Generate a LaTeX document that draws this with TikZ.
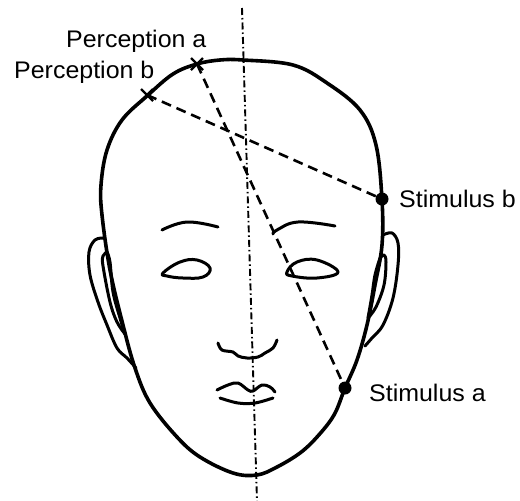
\documentclass[tikz,border=0pt]{standalone}
\usepackage{fontspec}
\setmainfont{Liberation Sans}
\newfontfamily\lblfont[FakeStretch=1.04]{Liberation Sans}
\begin{document}
\begin{tikzpicture}[x=1pt,y=-1pt,
  outline/.style={line width=3.6pt,line cap=round,line join=round},
  feature/.style={line width=3pt,line cap=round,line join=round},
  ray/.style={line width=2.6pt,dash pattern=on 10pt off 6pt},
  midline/.style={line width=1.9pt,dash pattern=on 7pt off 3pt on 1.5pt off 3pt},
  dotmark/.style={circle,fill=black,inner sep=0pt,minimum size=13pt},
  crossmark/.style={inner sep=0pt,minimum size=0pt},
  lbl/.style={anchor=base west,inner sep=0pt,font=\lblfont\fontsize{24}{27}\selectfont}]
\useasboundingbox (0,0) rectangle (520,501);
\fill[white] (0,0) rectangle (520,501);

% vertical mid line of the face
\coordinate (mtop) at (242,8);
\coordinate (mbot) at (257,501);
\draw[midline] (mtop) -- (mbot);

% head outline
\draw[outline] plot[smooth cycle,tension=0.6] coordinates {
  (243,60) (293,65) (327,83) (360,110) (376,145) (382,200) (382,245)
  (375,285) (367,325) (357,360) (345,388) (334,415) (317,437) (300,453)
  (277,467) (257,475) (233,473) (200,457) (177,437) (150,403) (135,368)
  (123,325) (110,270) (102,215) (101,185) (107,150) (122,120) (147,96)
  (173,74) (197,64) (220,60)};

% left ear
\draw[feature] plot[smooth,tension=0.6] coordinates {
  (104,238) (95,240) (89,252) (90,275) (98,302) (107,325) (117,348) (127,358) (136,368)};
\draw[feature] plot[smooth,tension=0.6] coordinates {
  (107,252) (103,256) (103,266) (110,302) (117,322) (125,334)};
\draw[feature] plot[smooth,tension=0.6] coordinates {
  (107,252) (110,262) (113,292) (120,318) (125,334)};

% right ear
\draw[feature] plot[smooth,tension=0.6] coordinates {
  (383,235) (392,233) (398,243) (398,265) (393,298) (383,325) (372,338) (365,346)};
\draw[feature] plot[smooth,tension=0.6] coordinates {
  (380,258) (384,255) (386,262) (384,285) (376,307) (368,318)};
\draw[feature] plot[smooth,tension=0.6] coordinates {
  (380,258) (375,275) (372,295) (368,318)};

% eyebrows
\draw[feature] plot[smooth,tension=0.7] coordinates {(162,230) (187,222) (218,227)};
\draw[feature] plot[smooth,tension=0.7] coordinates {(273,234) (277,230) (298,222) (335,226)};

% eyes
\draw[feature] plot[smooth cycle,tension=0.7] coordinates {
  (163,273) (180,262) (197,260) (210,268) (203,277) (183,278) (167,276)};
\draw[feature] plot[smooth cycle,tension=0.7] coordinates {
  (287,272) (297,262) (317,260) (338,272) (317,278) (292,276)};

% nose
\draw[feature] plot[smooth,tension=0.6] coordinates {
  (218,343) (222,350) (233,352) (238,356) (247,358) (258,357) (265,353) (273,348) (277,340)};

% mouth
\draw[feature] plot[smooth,tension=0.6] coordinates {
  (217,390) (228,385) (238,383) (248,390) (253,391) (262,385) (270,387) (275,392)};
\draw[feature] plot[smooth,tension=0.6] coordinates {
  (220,398) (238,403) (255,403) (273,398)};

% stimulus and perception points
\node[dotmark] (sa) at (345,388) {};
\node[dotmark] (sb) at (382,199) {};
\node[crossmark] (pa) at (197,64) {};
\node[crossmark] (pb) at (147,95) {};

\draw[ray] (pb) -- (sb);
\draw[ray] (pa) -- (sa);

\foreach \p in {pa,pb}{
  \draw[line width=2.4pt] ([shift={(-6,-6)}]\p.center) -- ([shift={(6,6)}]\p.center);
  \draw[line width=2.4pt] ([shift={(-6,6)}]\p.center) -- ([shift={(6,-6)}]\p.center);
}

% labels
\node[lbl] (la) at (66,47) {Perception a};
\node[lbl] (lb) at (14,78) {Perception b};
\node[lbl] (lsb) at (399,207) {Stimulus b};
\node[lbl] (lsa) at (369,401) {Stimulus a};
\end{tikzpicture}
\end{document}
